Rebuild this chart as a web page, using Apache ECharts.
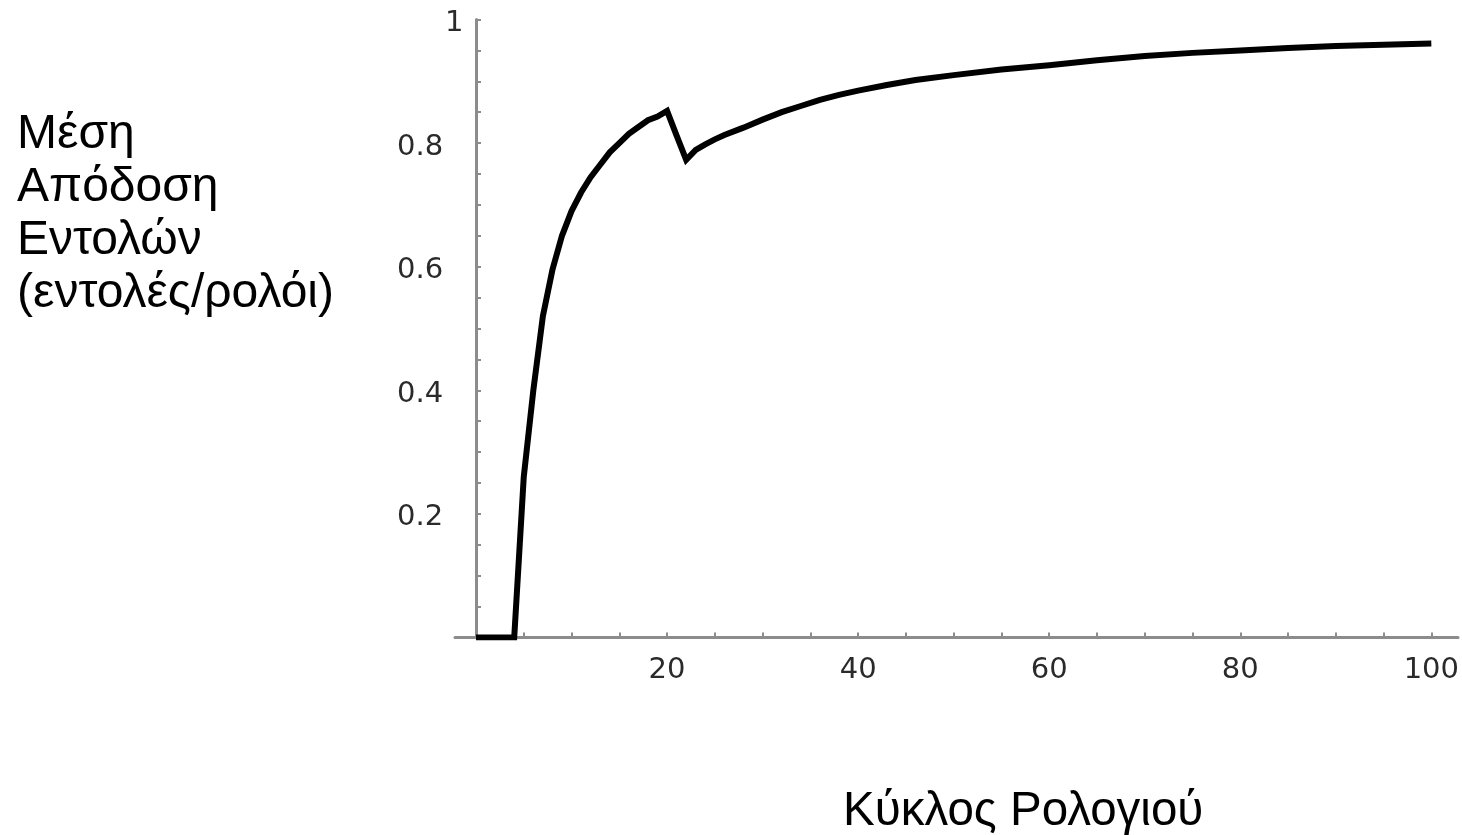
<!DOCTYPE html>
<html>
<head>
<meta charset="utf-8">
<title>Μέση Απόδοση Εντολών</title>
<script src="https://cdn.jsdelivr.net/npm/echarts@6/dist/echarts.min.js"></script>
<style>
    html, body { margin: 0; padding: 0; background: #fff; }
    #chart { width: 1462px; height: 835px; }
</style>
</head>
<body>
<div id="chart"></div>
<script>
    // κύκλος ρολογιού
    var cycles = [0, 1, 2, 3, 4, 5, 6, 7, 8, 9, 10, 11, 12, 13, 14, 15, 16, 17, 18, 19, 20,
        21, 22, 23, 24, 25, 26, 28, 30, 32, 34, 36, 38, 40, 43, 46, 50, 55, 60, 65, 70,
        75, 80, 85, 90, 95, 100];
    // μέση απόδοση (εντολές/ρολόι)
    var ipc = [0, 0, 0, 0, 0, 0.26, 0.40, 0.52, 0.595, 0.65, 0.69, 0.72, 0.745, 0.765, 0.785, 0.80, 0.815, 0.826, 0.837, 0.843, 0.852,
        0.812, 0.773, 0.789, 0.798, 0.806, 0.813, 0.825, 0.838, 0.850, 0.860, 0.870, 0.878, 0.885, 0.894, 0.902, 0.910, 0.919, 0.926, 0.934, 0.941,
        0.946, 0.950, 0.954, 0.957, 0.959, 0.961];

    var yTitle = ['Μέση', 'Απόδοση', 'Εντολών', '(εντολές/ρολόι)'];
    var xTitle = 'Κύκλος Ρολογιού';

    var points = [];
    cycles.forEach(function (c, i) {
        points.push([c, ipc[i]]);
    });

    var axisGray = '#8c8c8c';
    var tickFont = 'DejaVu Sans';
    var textFont = '"Liberation Sans", Arial, sans-serif';

    var chart = echarts.init(document.getElementById('chart'));
    chart.setOption({
        animation: false,
        title: [
            {
                text: yTitle.join('\n'),
                left: 17,
                top: 108,
                padding: 0,
                textStyle: {
                    fontFamily: textFont,
                    fontSize: 48,
                    lineHeight: 53,
                    fontWeight: 'normal',
                    color: '#000'
                }
            },
            {
                text: xTitle,
                left: 843,
                top: 785,
                padding: 0,
                textStyle: {
                    fontFamily: textFont,
                    fontSize: 47.5,
                    lineHeight: 53,
                    fontWeight: 'normal',
                    color: '#000'
                }
            }
        ],
        grid: [
            { left: 476, right: 27, top: 19.5, bottom: 197.5 },
            // μόνο για τη γραμμή του άξονα x, που βγαίνει λίγο έξω
            { left: 455, right: 4, top: 19.5, bottom: 197.5 }
        ],
        xAxis: [
            {
                gridIndex: 0,
                type: 'value',
                min: 0,
                max: 100,
                interval: 20,
                axisLine: { show: false },
                axisTick: { show: true, inside: true, length: 5, lineStyle: { color: axisGray, width: 2 } },
                minorTick: { show: true, splitNumber: 4, length: 5, lineStyle: { color: axisGray, width: 2 } },
                splitLine: { show: false },
                axisLabel: {
                    margin: 18,
                    fontFamily: tickFont,
                    fontSize: 29,
                    color: '#2a2a2a',
                    formatter: function (v) { return v === 0 ? '' : String(v); }
                }
            },
            {
                gridIndex: 1,
                type: 'value',
                min: 0,
                max: 1,
                axisLine: { show: true, lineStyle: { color: axisGray, width: 3 } },
                axisTick: { show: false },
                splitLine: { show: false },
                axisLabel: { show: false }
            }
        ],
        yAxis: [
            {
                gridIndex: 0,
                type: 'value',
                min: 0,
                max: 1,
                interval: 0.2,
                axisLine: { show: true, lineStyle: { color: axisGray, width: 3 } },
                axisTick: { show: true, inside: true, length: 5, lineStyle: { color: axisGray, width: 2 } },
                minorTick: { show: true, splitNumber: 4, length: 5, lineStyle: { color: axisGray, width: 2 } },
                splitLine: { show: false },
                axisLabel: {
                    align: 'left',
                    margin: 79,
                    padding: [8, 0, 0, 0],
                    fontFamily: tickFont,
                    fontSize: 29,
                    color: '#2a2a2a',
                    formatter: function (v) {
                        if (v === 0) return '';
                        if (v === 1) return '{one|1}';
                        return v.toFixed(1);
                    },
                    rich: {
                        one: { padding: [0, 0, 0, 48], fontFamily: tickFont, fontSize: 29, color: '#2a2a2a' }
                    }
                }
            },
            {
                gridIndex: 1,
                type: 'value',
                min: 0,
                max: 1,
                show: false
            }
        ],
        series: [
            {
                type: 'line',
                xAxisIndex: 0,
                yAxisIndex: 0,
                data: points,
                showSymbol: false,
                symbol: 'none',
                lineStyle: { color: '#000', width: 6, join: 'miter' },
                z: 5
            }
        ]
    });
</script>
</body>
</html>
